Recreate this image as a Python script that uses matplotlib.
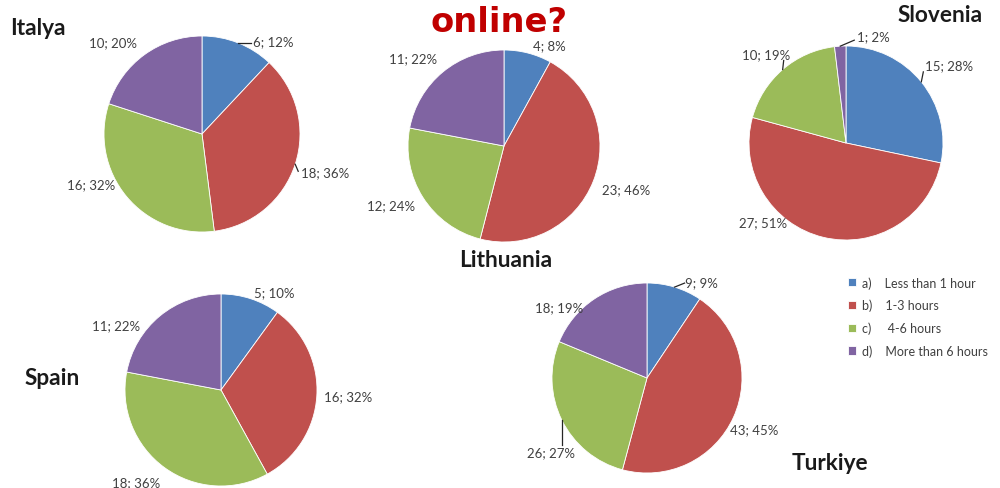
import numpy as np
import matplotlib
matplotlib.use("Agg")
import matplotlib.pyplot as plt

plt.rcParams['font.family'] = ['Lato', 'DejaVu Sans']

# data
categories = ["a)    Less than 1 hour", "b)    1-3 hours", "c)     4-6 hours", "d)    More than 6 hours"]
countries = ["Italya", "Lithuania", "Slovenia", "Spain", "Turkiye"]
italya = [6, 18, 16, 10]
lithuania = [4, 23, 12, 11]
slovenia = [15, 27, 10, 1]
spain = [5, 16, 18, 11]
turkiye = [9, 43, 26, 18]
title_text = "online?"

colors = ['#4F81BD', '#C0504D', '#9BBB59', '#8064A2']

W, H = 1000, 489
# layout (pixels): pie centre, radius, country title position + alignment,
# label nudges (dx, dy) and leader line offsets from the wedge edge
layout = {
    "Italya":    dict(c=(202, 135), r=98, t=(10, 35), ha='left',
                      nudge=[(11, 7), (-4, 5), (-4, -19), (-2, -5)],
                      leader=[(13, 0), (3, 7), None, None]),
    "Lithuania": dict(c=(504, 147), r=96, t=(506, 267), ha='center',
                      nudge=[(3, 1), (0, 4), (0, 3), (0, -6)],
                      leader=[None] * 4),
    "Slovenia":  dict(c=(846, 144), r=97, t=(983, 22), ha='right',
                      nudge=[(-4, -11), (-34, -25), (14, -8), (50, 0)],
                      leader=[(2, -10), None, (1, -9), (14, -6)]),
    "Spain":     dict(c=(221, 391), r=96, t=(25, 385), ha='left',
                      nudge=[(0, 3), (-2, 0), (1, 7), (-14, 17)],
                      leader=[None] * 4),
    "Turkiye":   dict(c=(647, 379), r=95, t=(868, 470), ha='right',
                      nudge=[(8, 4), (-12, 8), (22, 28), (-6, 16)],
                      leader=[(10, -4), None, (0, 25), None]),
}
values = dict(zip(countries, [italya, lithuania, slovenia, spain, turkiye]))

fig = plt.figure(figsize=(W / 100, H / 100), dpi=100)

legend_wedges = None
for name in countries:
    vals = values[name]
    lo = layout[name]
    cx, cy = lo['c']
    r = lo['r']
    ax = fig.add_axes([(cx - r) / W, 1 - (cy + r) / H, 2 * r / W, 2 * r / H])
    total = sum(vals)
    wedges, _ = ax.pie(vals, colors=colors, startangle=90, counterclock=False,
                       wedgeprops=dict(linewidth=0.6, edgecolor='white'))
    ax.set_xlim(-1, 1)
    ax.set_ylim(-1, 1)
    ax.set_aspect('equal')
    ax.axis('off')
    if legend_wedges is None:
        legend_wedges = wedges

    for i, w in enumerate(wedges):
        ang = np.deg2rad((w.theta1 + w.theta2) / 2)
        ex, ey = np.cos(ang), np.sin(ang)
        dx, dy = lo['nudge'][i]
        lx = 1.1 * ex + dx / r
        ly = 1.1 * ey - dy / r
        ax.text(lx, ly, f"{vals[i]}; {round(100 * vals[i] / total)}%",
                ha='left' if ex > 0 else 'right', va='center',
                fontsize=9.5, color='#404040', clip_on=False)
        ld = lo['leader'][i]
        if ld is not None:
            ax.plot([ex, ex + ld[0] / r], [ey, ey - ld[1] / r],
                    color='#262626', lw=0.9, clip_on=False)

    tx, ty = lo['t']
    fig.text(tx / W, 1 - ty / H, name, ha=lo['ha'], va='baseline',
             fontsize=16.3, fontweight='bold', color='#1a1a1a')

fig.text(499 / W, 1 - 32 / H, title_text, ha='center', va='baseline',
         fontsize=24.3, fontweight='bold', color='#C00000', family='DejaVu Sans')

fig.legend(legend_wedges, categories, loc='upper left',
           bbox_to_anchor=(848 / W, 1 - 277 / H), borderpad=0, borderaxespad=0,
           frameon=False, fontsize=9, handlelength=0.64, handleheight=0.64,
           handletextpad=0.5, labelspacing=0.82, labelcolor='#404040')

fig.savefig("out.png", dpi=100)
